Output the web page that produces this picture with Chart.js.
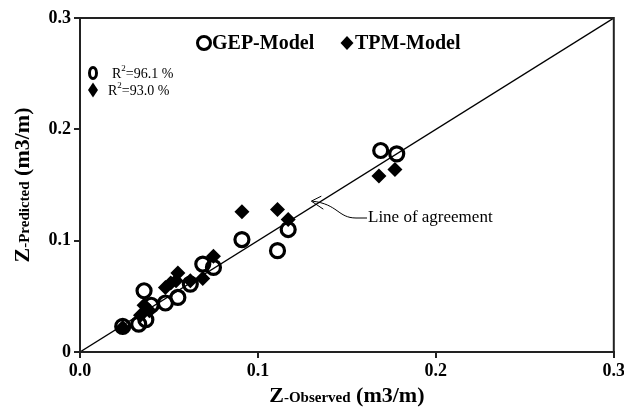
<!DOCTYPE html>
<html>
<head>
<meta charset="utf-8">
<script src="https://cdn.jsdelivr.net/npm/chart.js@4.4.0/dist/chart.umd.min.js"></script>
<style>
  html, body { margin: 0; padding: 0; background: #fff; }
</style>
</head>
<body>
<canvas id="chart" width="624" height="414"></canvas>
<script>
// observed vs predicted
const gepObserved  = [0.024, 0.033, 0.037, 0.036, 0.040, 0.048, 0.055, 0.062, 0.069, 0.075, 0.091, 0.111, 0.117, 0.169, 0.178];
const gepPredicted = [0.023, 0.025, 0.029, 0.055, 0.042, 0.044, 0.049, 0.061, 0.079, 0.076, 0.101, 0.091, 0.110, 0.181, 0.178];
const tpmObserved  = [0.024, 0.034, 0.036, 0.039, 0.048, 0.051, 0.054, 0.055, 0.062, 0.069, 0.075, 0.091, 0.111, 0.117, 0.168, 0.177];
const tpmPredicted = [0.022, 0.033, 0.042, 0.037, 0.058, 0.062, 0.064, 0.071, 0.064, 0.066, 0.086, 0.126, 0.128, 0.119, 0.158, 0.164];
const agreeX = [0, 0.3];
const agreeY = [0, 0.3];

const xTickLabels = ["0.0", "0.1", "0.2", "0.3"];
const yTickLabels = ["0", "0.1", "0.2", "0.3"];
const seriesNames = ["GEP-Model", "TPM-Model"];
const r2Labels = ["96.1 %", "93.0 %"];

const serif = "'Liberation Serif', 'Times New Roman', serif";

const toPoints = (xs, ys) => xs.map((x, i) => ({ x, y: ys[i] }));

// small helpers for the hand drawn bits
function drawRing(c, x, y, rx, ry, w) {
  c.beginPath();
  c.ellipse(x, y, rx, ry, 0, 0, Math.PI * 2);
  c.lineWidth = w;
  c.strokeStyle = "#000";
  c.stroke();
}
function drawDiamond(c, x, y, rx, ry) {
  c.beginPath();
  c.moveTo(x, y - ry);
  c.lineTo(x + rx, y);
  c.lineTo(x, y + ry);
  c.lineTo(x - rx, y);
  c.closePath();
  c.fillStyle = "#000";
  c.fill();
}
// text made of runs with different fonts, centred on (x, y)
function drawRuns(c, runs, x, y, angle) {
  c.save();
  c.translate(x, y);
  c.rotate(angle || 0);
  let total = 0;
  runs.forEach(r => { c.font = r.font; total += c.measureText(r.text).width; });
  let pos = -total / 2;
  c.textBaseline = "alphabetic";
  c.textAlign = "left";
  c.fillStyle = "#000";
  runs.forEach(r => {
    c.font = r.font;
    c.fillText(r.text, pos, 0);
    pos += c.measureText(r.text).width;
  });
  c.restore();
}

const extras = {
  id: "extras",
  afterDraw(chart) {
    const c = chart.ctx;
    const a = chart.chartArea;
    const xs = chart.scales.x, ys = chart.scales.y;
    c.save();

    // frame round the plot
    c.strokeStyle = "#222";
    c.lineWidth = 2;
    c.strokeRect(a.left, a.top, a.right - a.left, a.bottom - a.top);

    // legend inside the plot
    c.font = "bold 20px " + serif;
    c.textBaseline = "middle";
    c.textAlign = "left";
    c.fillStyle = "#000";
    drawRing(c, 204, 43, 6.5, 6.5, 3);
    c.fillText(seriesNames[0], 212, 44);
    drawDiamond(c, 347, 43, 6.5, 7);
    c.fillText(seriesNames[1], 355, 44);

    // R squared notes
    drawRing(c, 93, 73, 3.5, 5.5, 3);
    drawDiamond(c, 93, 90, 5, 7.5);
    [[112, 74, r2Labels[0]], [108, 91, r2Labels[1]]].forEach(([x, y, t]) => {
      c.font = "14px " + serif;
      c.fillText("R", x, y);
      let w = c.measureText("R").width;
      c.font = "9px " + serif;
      c.fillText("2", x + w, y - 5);
      w += c.measureText("2").width;
      c.font = "14px " + serif;
      c.fillText("=" + t, x + w, y);
    });

    // line of agreement note with curved arrow
    const tipX = xs.getPixelForValue(0.130), tipY = ys.getPixelForValue(0.1355);
    const txtX = 368, txtY = 218;
    c.font = "17px " + serif;
    c.fillText("Line of agreement", txtX, txtY);
    c.beginPath();
    c.lineWidth = 1;
    c.strokeStyle = "#000";
    c.moveTo(txtX - 1, txtY);
    c.lineTo(txtX - 12, txtY);
    c.bezierCurveTo(txtX - 30, txtY, txtX - 30, tipY + 3, tipX + 1, tipY);
    c.stroke();
    c.beginPath();
    c.moveTo(tipX + 10, tipY - 5);
    c.lineTo(tipX, tipY);
    c.lineTo(tipX + 12, tipY + 8);
    c.stroke();

    // axis titles
    const cx = (a.left + a.right) / 2, cy = (a.top + a.bottom) / 2;
    drawRuns(c, [
      { text: "Z", font: "bold 22px " + serif },
      { text: "-Observed", font: "bold 15px " + serif },
      { text: " (m3/m)", font: "bold 22px " + serif }
    ], cx, 402, 0);
    drawRuns(c, [
      { text: "Z", font: "bold 22px " + serif },
      { text: "-Predicted", font: "bold 15px " + serif },
      { text: " (m3/m)", font: "bold 22px " + serif }
    ], 29, cy, -Math.PI / 2);

    c.restore();
  }
};

const ctx = document.getElementById("chart").getContext("2d");
new Chart(ctx, {
  type: "scatter",
  data: {
    datasets: [
      {
        label: seriesNames[0],
        data: toPoints(gepObserved, gepPredicted),
        pointStyle: "circle",
        pointRadius: 7,
        borderWidth: 3.2,
        borderColor: "#000",
        backgroundColor: "rgba(0,0,0,0)",
        order: 1
      },
      {
        label: seriesNames[1],
        data: toPoints(tpmObserved, tpmPredicted),
        pointStyle: "rectRot",
        pointRadius: 7.5,
        borderWidth: 0,
        borderColor: "#000",
        backgroundColor: "#000",
        order: 2
      },
      {
        label: "Line of agreement",
        data: toPoints(agreeX, agreeY),
        showLine: true,
        pointRadius: 0,
        borderColor: "#000",
        borderWidth: 1.3,
        order: 3
      }
    ]
  },
  options: {
    responsive: false,
    animation: false,
    layout: { padding: { left: 0, right: 9, top: 18, bottom: 0 } },
    plugins: {
      legend: { display: false },
      tooltip: { enabled: false }
    },
    scales: {
      x: {
        type: "linear",
        min: 0,
        max: 0.3,
        ticks: {
          stepSize: 0.1,
          padding: 3,
          color: "#000",
          font: { family: serif, size: 18, weight: "bold" },
          callback: (v, i) => xTickLabels[i]
        },
        grid: { drawOnChartArea: false, drawTicks: true, tickLength: 6, color: "#222", lineWidth: 2 },
        border: { display: true, color: "#222", width: 2 },
        afterFit: (s) => { s.height = 62; s.paddingLeft = 0; s.paddingRight = 0; }
      },
      y: {
        type: "linear",
        min: 0,
        max: 0.3,
        ticks: {
          stepSize: 0.1,
          padding: 3,
          color: "#000",
          font: { family: serif, size: 18, weight: "bold" },
          callback: (v, i) => yTickLabels[i]
        },
        grid: { drawOnChartArea: false, drawTicks: true, tickLength: 6, color: "#222", lineWidth: 2 },
        border: { display: true, color: "#222", width: 2 },
        afterFit: (s) => { s.width = 80; s.paddingTop = 0; s.paddingBottom = 0; }
      }
    }
  },
  plugins: [extras]
});
</script>
</body>
</html>
